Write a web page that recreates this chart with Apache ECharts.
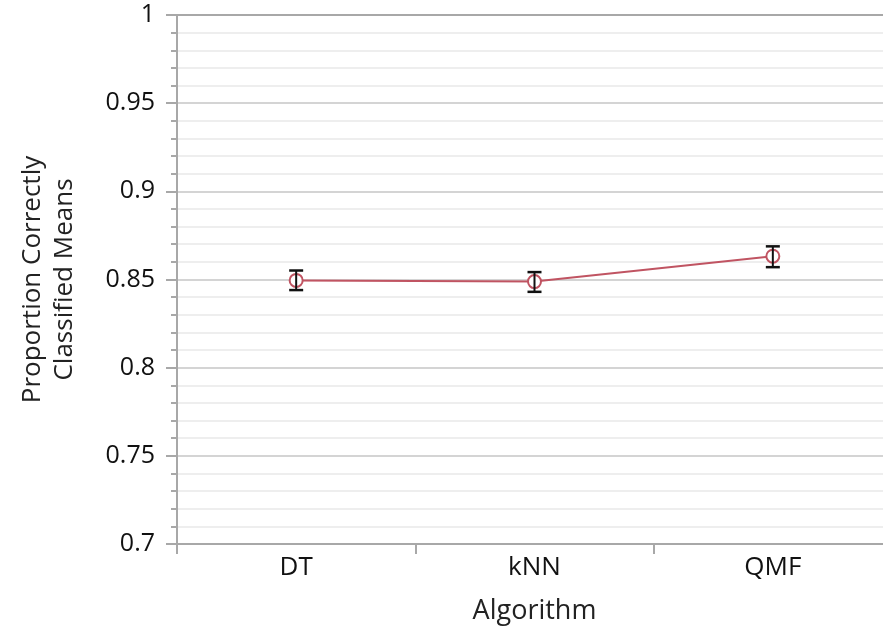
<!DOCTYPE html>
<html>
<head>
<meta charset="utf-8">
<script src="https://cdn.jsdelivr.net/npm/echarts@6/dist/echarts.min.js"></script>
<style>
  html, body { margin: 0; padding: 0; background: #fff; }
  #main { width: 883px; height: 634px; }
</style>
</head>
<body>
<div id="main"></div>
<script>
var algorithms = ['DT', 'kNN', 'QMF'];
var means = [0.8495, 0.8488, 0.8632];
var lower = [0.8440, 0.8430, 0.8570];
var upper = [0.8551, 0.8542, 0.8688];

var dom = document.getElementById('main');
var chart = echarts.init(dom, null, { renderer: 'canvas' });

var font = '"Open Sans", "Noto Sans", sans-serif';
var lineColor = '#c05462';

var errorData = algorithms.map(function (name, i) {
  return [i, lower[i], upper[i]];
});

var option = {
  animation: false,
  grid: { left: 177, right: -9, top: 15, bottom: 90, outerBoundsMode: 'none', containLabel: false },
  xAxis: [
    {
      type: 'category',
      data: algorithms,
      boundaryGap: true,
      name: 'Algorithm',
      nameLocation: 'middle',
      nameGap: 54,
      nameTextStyle: { fontFamily: font, fontSize: 27, color: '#222' },
      axisLine: { lineStyle: { color: '#a8a8a8', width: 2 } },
      axisTick: { show: true, length: 10, lineStyle: { color: '#a8a8a8', width: 2 } },
      axisLabel: { fontFamily: font, fontSize: 26, color: '#111', margin: 11 },
      splitLine: { show: false }
    },
    {
      type: 'category',
      data: algorithms,
      position: 'top',
      axisLine: { show: true, lineStyle: { color: '#a8a8a8', width: 2 } },
      axisTick: { show: false },
      axisLabel: { show: false }
    }
  ],
  yAxis: {
    type: 'value',
    min: 0.7,
    max: 1,
    interval: 0.05,
    name: 'Proportion Correctly\nClassified Means',
    nameLocation: 'middle',
    nameGap: 96,
    nameTextStyle: { fontFamily: font, fontSize: 26, color: '#222', lineHeight: 32 },
    axisLine: { show: true, lineStyle: { color: '#a8a8a8', width: 2 } },
    axisTick: { show: true, length: 11, lineStyle: { color: '#a8a8a8', width: 2 } },
    minorTick: { show: true, splitNumber: 5, length: 6, lineStyle: { color: '#a8a8a8', width: 2 } },
    axisLabel: {
      fontFamily: font, fontSize: 25, color: '#111', margin: 22,
      formatter: function (v) { return String(parseFloat(v.toFixed(2))); }
    },
    splitLine: { show: true, lineStyle: { color: '#d4d4d4', width: 2 } },
    minorSplitLine: { show: true, lineStyle: { color: '#eeeeee', width: 2 } }
  },
  series: [
    {
      type: 'line',
      data: means,
      symbol: 'circle',
      symbolSize: 13,
      lineStyle: { color: lineColor, width: 2 },
      itemStyle: { color: '#fff', borderColor: lineColor, borderWidth: 2 },
      z: 3
    },
    {
      type: 'custom',
      data: errorData,
      z: 4,
      renderItem: function (params, api) {
        var lo = api.coord([api.value(0), api.value(1)]);
        var hi = api.coord([api.value(0), api.value(2)]);
        var half = 7;
        var st = { stroke: '#111', lineWidth: 2.5 };
        return {
          type: 'group',
          children: [
            { type: 'line', shape: { x1: hi[0], y1: hi[1], x2: lo[0], y2: lo[1] }, style: { stroke: '#111', lineWidth: 2 } },
            { type: 'line', shape: { x1: hi[0] - half, y1: hi[1], x2: hi[0] + half, y2: hi[1] }, style: st },
            { type: 'line', shape: { x1: lo[0] - half, y1: lo[1], x2: lo[0] + half, y2: lo[1] }, style: st }
          ]
        };
      }
    }
  ]
};

chart.setOption(option);

window.addEventListener('resize', function () {
  chart.resize();
});
</script>
</body>
</html>
